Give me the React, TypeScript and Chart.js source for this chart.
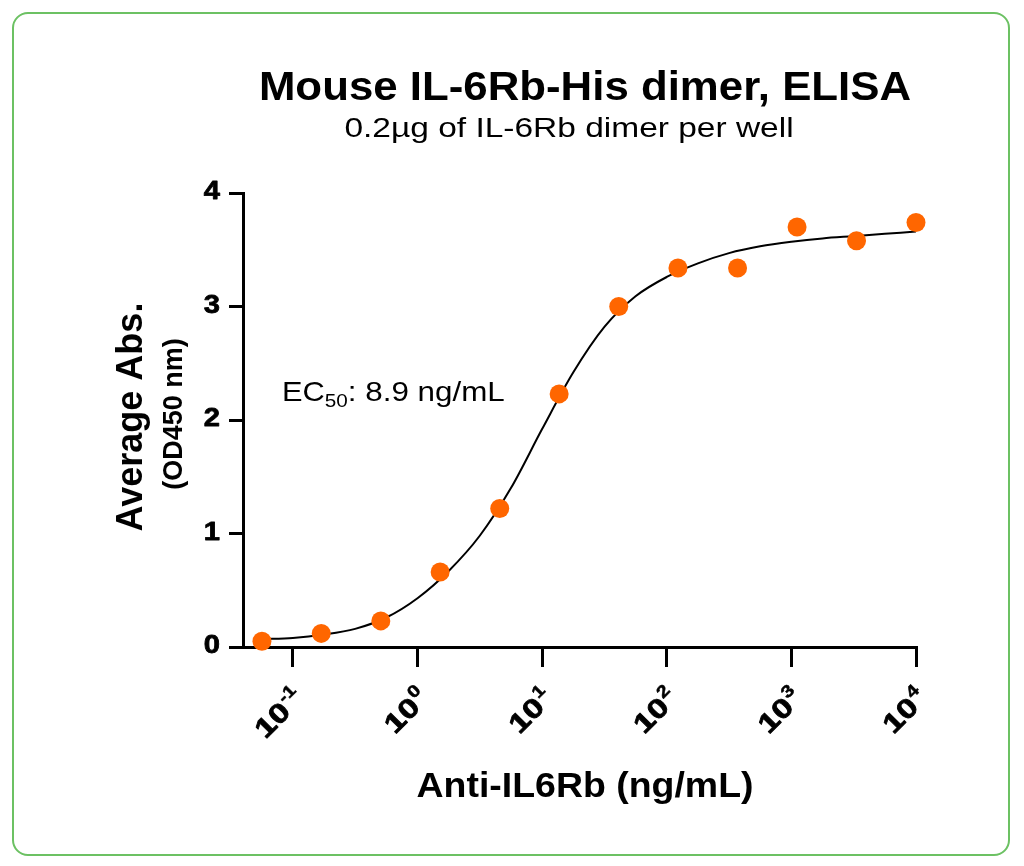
import React, { useEffect, useRef } from "react";
import { Chart, registerables } from "chart.js";

Chart.register(...registerables);

// measured data (ng/mL, 3-fold dilution series)
const concentrations = [0.0565, 0.169, 0.508, 1.52, 4.57, 13.7, 41.2, 123, 370, 1111, 3333, 10000];
const absorbance = [0.05, 0.12, 0.23, 0.66, 1.22, 2.23, 3.0, 3.34, 3.34, 3.7, 3.58, 3.74];

// fitted curve (quarter decades)
const fitConcentrations = [
  0.0565, 0.1, 0.178, 0.316, 0.562, 1, 1.78, 3.16, 5.62, 10, 17.8, 31.6, 56.2, 100, 178, 316, 562, 1000, 1778,
  3162, 5623, 10000,
];
const fitAbsorbance = [
  0.07, 0.08, 0.11, 0.16, 0.26, 0.43, 0.67, 0.98, 1.4, 1.92, 2.42, 2.82, 3.09, 3.26, 3.38, 3.47, 3.53, 3.57, 3.6,
  3.62, 3.64, 3.66,
];

const xTickExponents = [-1, 0, 1, 2, 3, 4];
const yTicks = [0, 1, 2, 3, 4];

const TITLE = "Mouse IL-6Rb-His dimer, ELISA";
const SUBTITLE = "0.2\u00b5g of IL-6Rb dimer per well";
const X_TITLE = "Anti-IL6Rb (ng/mL)";
const Y_TITLE = "Average Abs.";
const Y_SUBTITLE = "(OD450 nm)";
const EC50_TEXT = ": 8.9 ng/mL";

const FONT = "'Liberation Sans', Arial, Helvetica, sans-serif";

type TextOpts = {
  align?: CanvasTextAlign;
  baseline?: CanvasTextBaseline;
  sx?: number;
  rotate?: number;
  stroke?: number;
};

function drawText(
  ctx: CanvasRenderingContext2D,
  text: string,
  x: number,
  y: number,
  font: string,
  { align = "left", baseline = "alphabetic", sx = 1, rotate = 0, stroke = 0 }: TextOpts = {}
) {
  ctx.save();
  ctx.translate(x, y);
  if (rotate) ctx.rotate(rotate);
  ctx.scale(sx, 1);
  ctx.font = font;
  ctx.textAlign = align;
  ctx.textBaseline = baseline;
  ctx.fillText(text, 0, 0);
  if (stroke) {
    // a little extra weight for the heavy tick digits
    ctx.strokeStyle = "#000";
    ctx.lineWidth = stroke;
    ctx.lineJoin = "round";
    ctx.strokeText(text, 0, 0);
  }
  ctx.restore();
}

function textWidth(ctx: CanvasRenderingContext2D, text: string, font: string, sx = 1) {
  ctx.save();
  ctx.font = font;
  const w = ctx.measureText(text).width * sx;
  ctx.restore();
  return w;
}

const labelsPlugin = {
  id: "labelsPlugin",
  afterDraw(chart: any) {
    const { ctx, scales } = chart;
    const xs = scales.x;
    const ys = scales.y;
    ctx.save();
    ctx.fillStyle = "#000";

    // titles
    drawText(ctx, TITLE, 585, 100, `bold 40px ${FONT}`, { align: "center", sx: 1.095 });
    drawText(ctx, SUBTITLE, 569, 137, `27px ${FONT}`, { align: "center", sx: 1.24 });
    drawText(ctx, X_TITLE, 585, 797, `bold 35px ${FONT}`, { align: "center", sx: 1.07 });
    drawText(ctx, Y_TITLE, 142, 417, `bold 36px ${FONT}`, { align: "center", rotate: -Math.PI / 2 });
    drawText(ctx, Y_SUBTITLE, 182, 414, `bold 27px ${FONT}`, { align: "center", rotate: -Math.PI / 2 });

    // y tick labels
    const tickFont = `bold 26px ${FONT}`;
    yTicks.forEach((v) => {
      drawText(ctx, String(v), 220, ys.getPixelForValue(v) - 1, tickFont, {
        align: "right",
        baseline: "middle",
        sx: 1.12,
        stroke: 0.8,
      });
    });

    // x tick labels: 10^n, rotated 45 degrees
    const mainFont = `bold 27px ${FONT}`;
    const supFont = `bold 17px ${FONT}`;
    xTickExponents.forEach((e) => {
      const px = xs.getPixelForValue(Math.pow(10, e));
      const sup = String(e);
      const supW = textWidth(ctx, sup, supFont, 1.2);
      ctx.save();
      ctx.translate(px - 5, 682);
      ctx.rotate(-Math.PI / 4);
      drawText(ctx, sup, 0, 13, supFont, { align: "right", sx: 1.2, stroke: 0.5 });
      drawText(ctx, "10", -supW - 1, 25, mainFont, { align: "right", sx: 1.25, stroke: 0.8 });
      ctx.restore();
    });

    // EC50 annotation
    const ecFont = `28px ${FONT}`;
    const subFont = `18px ${FONT}`;
    let ex = 282;
    drawText(ctx, "EC", ex, 401, ecFont, { sx: 1.1 });
    ex += textWidth(ctx, "EC", ecFont, 1.1);
    drawText(ctx, "50", ex, 407, subFont, { sx: 1.15 });
    ex += textWidth(ctx, "50", subFont, 1.15);
    drawText(ctx, EC50_TEXT, ex, 401, ecFont, { sx: 1.12 });

    ctx.restore();
  },
};

const App: React.FC = () => {
  const canvasRef = useRef<HTMLCanvasElement | null>(null);
  const chartRef = useRef<Chart | null>(null);

  useEffect(() => {
    if (!canvasRef.current) return;
    if (chartRef.current) chartRef.current.destroy();

    chartRef.current = new Chart(canvasRef.current, {
      type: "scatter",
      data: {
        datasets: [
          {
            label: "data",
            data: concentrations.map((c, i) => ({ x: c, y: absorbance[i] })),
            backgroundColor: "#ff6600",
            borderWidth: 0,
            pointRadius: 9.5,
            pointHoverRadius: 9.5,
            clip: false,
          },
          {
            label: "fit",
            data: fitConcentrations.map((c, i) => ({ x: c, y: fitAbsorbance[i] })),
            showLine: true,
            borderColor: "#000",
            borderWidth: 2,
            pointRadius: 0,
            cubicInterpolationMode: "monotone",
            fill: false,
          },
        ],
      },
      options: {
        responsive: false,
        devicePixelRatio: 1,
        animation: false,
        events: [],
        layout: {
          padding: { left: 229, right: 108, top: 193, bottom: 199 },
        },
        plugins: {
          legend: { display: false },
          tooltip: { enabled: false },
          title: { display: false },
        },
        scales: {
          x: {
            type: "logarithmic",
            min: Math.pow(10, -1.4),
            max: 10000,
            afterBuildTicks: (scale: any) => {
              scale.ticks = xTickExponents.map((e) => ({ value: Math.pow(10, e) }));
            },
            ticks: { display: false },
            grid: {
              drawOnChartArea: false,
              drawTicks: true,
              tickLength: 20,
              color: "#000",
              lineWidth: 3,
            },
            border: { display: true, color: "#000", width: 3 },
          },
          y: {
            type: "linear",
            min: 0,
            max: 4,
            afterBuildTicks: (scale: any) => {
              scale.ticks = yTicks.map((v) => ({ value: v }));
            },
            ticks: { display: false },
            grid: {
              drawOnChartArea: false,
              drawTicks: true,
              tickLength: 14,
              color: "#000",
              lineWidth: 3,
            },
            border: { display: true, color: "#000", width: 3 },
          },
        },
      },
      plugins: [labelsPlugin],
    } as any);

    return () => {
      if (chartRef.current) {
        chartRef.current.destroy();
        chartRef.current = null;
      }
    };
  }, []);

  return (
    <div
      style={{
        position: "fixed",
        left: 0,
        top: 0,
        width: 1024,
        height: 866,
        background: "#fff",
      }}
    >
      <div
        style={{
          position: "absolute",
          left: 12,
          top: 12,
          width: 998,
          height: 844,
          boxSizing: "border-box",
          border: "2px solid #6cc163",
          borderRadius: 16,
        }}
      />
      <canvas
        ref={canvasRef}
        width={1024}
        height={866}
        style={{ position: "absolute", left: 0, top: 0, width: 1024, height: 866 }}
      />
    </div>
  );
};

export default App;
